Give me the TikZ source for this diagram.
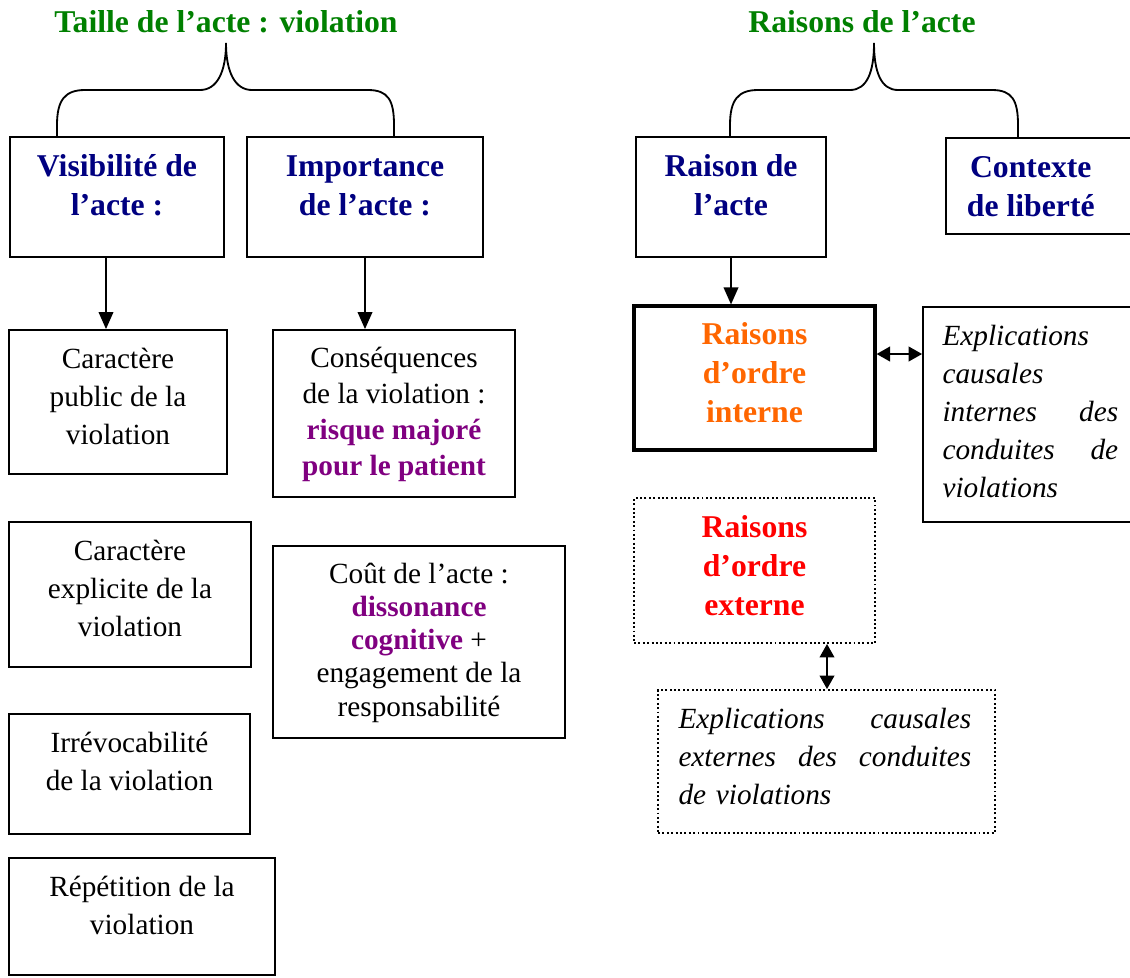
\documentclass[tikz,border=0pt]{standalone}
\usepackage{fontspec}
\setmainfont{Liberation Serif}
\usepackage{xcolor}
\usetikzlibrary{arrows.meta}
\usetikzlibrary{positioning}
\usetikzlibrary{fit}

\definecolor{vert}{RGB}{0,128,0}
\definecolor{marine}{RGB}{0,0,128}
\definecolor{orangeint}{RGB}{255,102,0}
\definecolor{rougeext}{RGB}{255,0,0}
\definecolor{pourpre}{RGB}{128,0,128}

\tikzset{
  boite/.style={draw, line width=0.75pt, inner sep=0pt},
  boitep/.style={draw, densely dotted, line width=0.8pt, inner sep=0pt},
  texte/.style={inner sep=0pt, align=center, font=\fontsize{12}{15.6}\selectfont},
  tete/.style={inner sep=0pt, align=center, text=marine, font=\fontsize{13}{16}\selectfont\bfseries},
  titre/.style={inner sep=0pt, text=vert, font=\fontsize{13}{16}\selectfont\bfseries},
  fleche/.style={-{Triangle[length=7pt,width=6pt]}, line width=0.75pt},
  dfleche/.style={{Triangle[length=5.5pt,width=6pt]}-{Triangle[length=5.5pt,width=6pt]}, line width=0.75pt},
  accolade/.style={line width=0.75pt},
}

\begin{document}
\begin{tikzpicture}[x=0.41pt,y=-0.41pt]
  \useasboundingbox (0,0) rectangle (1130,977);
  \clip (0,0) rectangle (1130,977);

  % titres et accolades
  \node[titre] (t1) at (226,22) {Taille de l'acte : violation};
  \node[titre] (t2) at (862,22) {Raisons de l'acte};
  \draw[accolade] (57,137) -- (57,125) .. controls (57,100) and (65,90) .. (85,90)
    -- (200,90) .. controls (217,90) and (226,72) .. (226,43)
    .. controls (226,72) and (235,90) .. (252,90) -- (368,90)
    .. controls (388,90) and (394,100) .. (394,125) -- (394,137);
  \draw[accolade] (730,137) -- (730,125) .. controls (730,100) and (738,90) .. (758,90)
    -- (850,90) .. controls (867,90) and (874,72) .. (874,43)
    .. controls (874,72) and (881,90) .. (898,90) -- (992,90)
    .. controls (1012,90) and (1018,100) .. (1018,125) -- (1018,137);

  % taille de l'acte
  \node[boite, fit={(10,137) (224,257)}] (vis) {};
  \node[tete, below=5pt of vis.north] (vis-t) {\strut Visibilité de\\l'acte :};
  \node[boite, fit={(247,137) (483,257)}] (imp) {};
  \node[tete, below=5pt of imp.north] (imp-t) {\strut Importance\\de l'acte :};

  \node[boite, fit={(9,330) (227,474)}] (pub) {};
  \node[texte, below=5pt of pub.north] (pub-t) {\strut Caractère\\public de la\\violation};
  \node[boite, fit={(9,522) (251,667)}] (expl) {};
  \node[texte, below=5pt of expl.north] (expl-t) {\strut Caractère\\explicite de la\\violation};
  \node[boite, fit={(9,714) (250,834)}] (irr) {};
  \node[texte, below=5pt of irr.north] (irr-t) {\strut Irrévocabilité\\de la violation};
  \node[boite, fit={(9,858) (275,975)}] (rep) {};
  \node[texte, below=5pt of rep.north] (rep-t) {\strut Répétition de la\\violation};

  \node[boite, fit={(273,330) (515,497)}] (cons) {};
  \node[texte, font=\fontsize{12}{14.8}\selectfont, below=5pt of cons.north] (cons-t)
    {\strut Conséquences\\de la violation :\\
     \textcolor{pourpre}{\bfseries risque majoré}\\
     \textcolor{pourpre}{\bfseries pour le patient}};
  \node[boite, fit={(273,546) (565,738)}] (cout) {};
  \node[texte, font=\fontsize{12}{13.6}\selectfont, below=6pt of cout.north] (cout-t)
    {\strut Coût de l'acte :\\
     \textcolor{pourpre}{\bfseries dissonance}\\
     \textcolor{pourpre}{\bfseries cognitive} +\\
     engagement de la\\responsabilité};

  \draw[fleche] (vis.south -| 106,0) -- (pub.north -| 106,0);
  \draw[fleche] (imp.south) -- (imp.south |- cons.north);

  % raisons de l'acte
  \node[boite, fit={(636,137) (826,257)}] (rai) {};
  \node[tete, below=5pt of rai.north] (rai-t) {\strut Raison de\\l'acte};
  \node[boite, fit={(946,138) (1140,234)}] (ctx) {};
  \node[tete, below=5pt of ctx.north, xshift=-5pt] (ctx-t) {\strut Contexte\\de liberté};

  \node[boite, line width=1.3pt, fit={(634,306) (875,450)}] (int) {};
  \node[tete, text=orangeint, below=5pt of int.north] (int-t) {\strut Raisons\\d'ordre\\interne};
  \node[boite, fit={(923,307) (1140,522)}] (eint) {};
  \node[texte, align=left, text width=72pt, font=\fontsize{12}{15.6}\selectfont\itshape,
    anchor=north west] (eint-t) at ([xshift=8.2pt,yshift=-5pt]eint.north west)
    {\strut Explications\\causales\\internes\hfill des\\conduites\hfill de\\violations};

  \node[boitep, fit={(634,498) (875,643)}] (ext) {};
  \node[tete, text=rougeext, below=5pt of ext.north] (ext-t) {\strut Raisons\\d'ordre\\externe};
  \node[boitep, fit={(658,690) (995,833)}] (eext) {};
  \node[texte, align=left, text width=120pt, font=\fontsize{12}{15.6}\selectfont\itshape,
    anchor=north west] (eext-t) at ([xshift=8.6pt,yshift=-5pt]eext.north west)
    {\strut Explications\hfill causales\\externes\hfill des\hfill conduites\\de violations};

  \draw[fleche] (rai.south) -- (rai.south |- int.north);
  \draw[dfleche] (int.east |- 0,354) -- (eint.west |- 0,354);
  \draw[dfleche] (ext.south -| 827,0) -- (eext.north -| 827,0);
\end{tikzpicture}
\end{document}
